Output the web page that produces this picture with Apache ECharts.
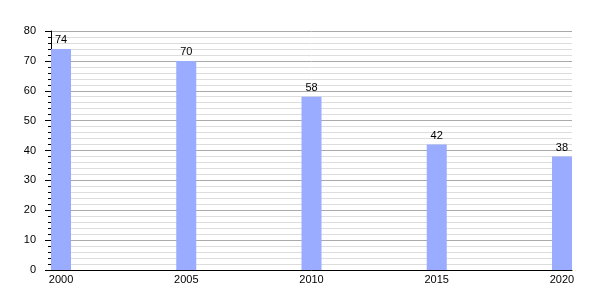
<!DOCTYPE html>
<html><head><meta charset="utf-8">
<script src="https://cdn.jsdelivr.net/npm/echarts@6/dist/echarts.min.js"></script>
<style>html,body{margin:0;padding:0;background:#fff}#c{width:600px;height:300px}</style>
</head><body><div id="c"></div>
<script>
const years = [2000, 2005, 2010, 2015, 2020];
const values = [74, 70, 58, 42, 38];
const yTicks = [0, 10, 20, 30, 40, 50, 60, 70, 80];

const chart = echarts.init(document.getElementById('c'), null, {renderer: 'canvas'});
const font = 'Liberation Sans, Arial, sans-serif';
chart.setOption({
  animation: false,
  grid: {left: 51, right: 28, top: 31, bottom: 30, containLabel: false},
  xAxis: {
    type: 'value', min: 1999.6, max: 2020.4,
    axisLine: {show: true, onZero: false, lineStyle: {color: '#000', width: 1}},
    axisTick: {show: false},
    splitLine: {show: false},
    axisLabel: {
      margin: 4, color: '#000', fontSize: 11, fontFamily: font,
      showMinLabel: false, showMaxLabel: false,
      formatter: v => years.includes(Math.round(v*1000)/1000) ? String(v) : ''
    }
  },
  yAxis: {
    type: 'value', min: yTicks[0], max: yTicks[yTicks.length-1], interval: 10,
    axisLine: {show: true, lineStyle: {color: '#000', width: 1}},
    axisTick: {show: true, length: 6, lineStyle: {color: '#000'}},
    minorTick: {show: true, splitNumber: 5, length: 3, lineStyle: {color: '#000'}},
    splitLine: {show: true, lineStyle: {color: '#aaaaaa', width: 1}},
    minorSplitLine: {show: true, lineStyle: {color: '#dddddd', width: 1}},
    axisLabel: {margin: 15, color: '#000', fontSize: 11, fontFamily: font}
  },
  series: [{
    type: 'bar',
    data: years.map((y, i) => [y, values[i]]),
    barWidth: 20,
    itemStyle: {color: '#9aacff'},
    label: {show: true, position: 'top', distance: 3, color: '#000', fontSize: 11, fontFamily: font}
  }]
});
</script></body></html>
